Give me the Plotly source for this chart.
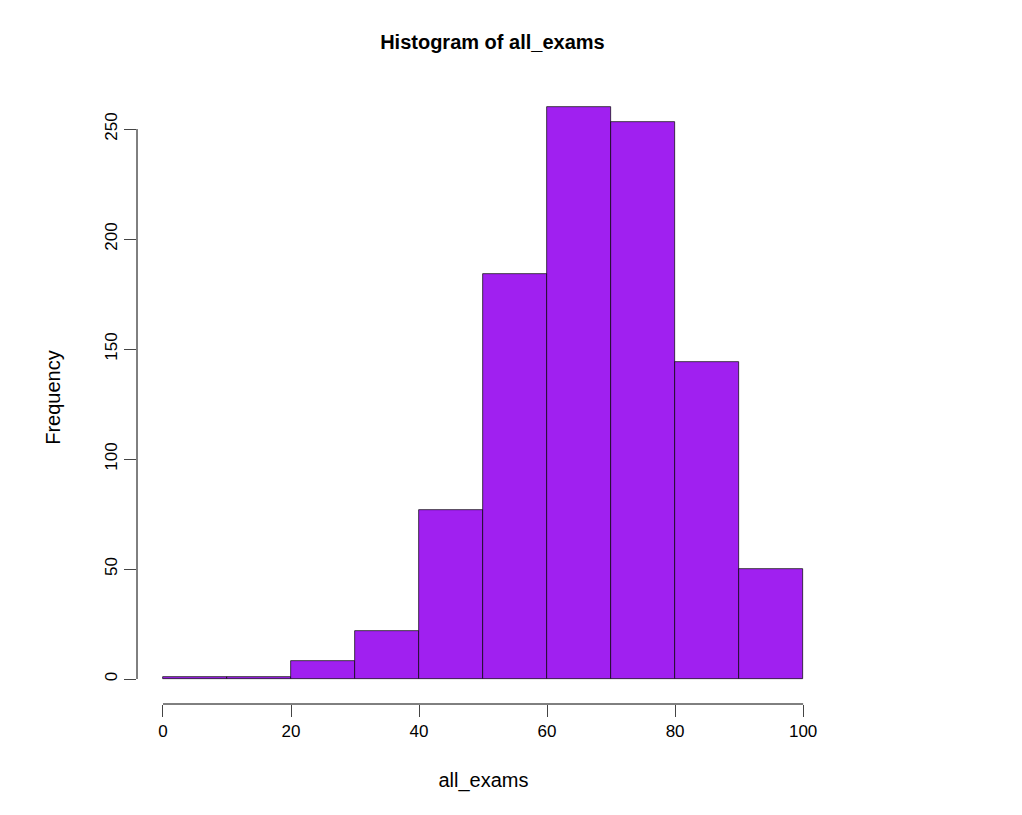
import plotly.graph_objects as go

bin_left = [0, 10, 20, 30, 40, 50, 60, 70, 80, 90]
counts = [1, 1, 8, 22, 77, 184, 260, 253, 144, 50]
x_ticks = [0, 20, 40, 60, 80, 100]
y_ticks = [0, 50, 100, 150, 200, 250]

fig = go.Figure(go.Bar(
    x=[b + 5 for b in bin_left], y=counts, width=10,
    marker=dict(color="#A020F0", line=dict(color="black", width=0.7)),
))

# R-style detached axis lines
fig.add_shape(type="line", xref="x", yref="paper", x0=0, x1=100, y0=0, y1=0,
              line=dict(color="black", width=1))
fig.add_shape(type="line", xref="paper", yref="y", x0=0, x1=0, y0=0, y1=250,
              line=dict(color="black", width=1))

fig.update_layout(
    width=1022, height=815, plot_bgcolor="white", paper_bgcolor="white",
    margin=dict(l=129, r=200, t=83, b=119),
    font=dict(family="Liberation Sans, Arial", size=17, color="black"),
    title=dict(text="<b>Histogram of all_exams</b>", x=0.474, xanchor="center",
               y=0.958, yanchor="middle", font=dict(size=20)),
    showlegend=False, bargap=0,
    xaxis=dict(range=[-4.06, 104.2], tickvals=x_ticks, ticks="outside", ticklen=12,
               showgrid=False, zeroline=False, showline=False,
               title=dict(text="all_exams", standoff=32)),
    yaxis=dict(range=[-11.36, 267.3], tickvals=y_ticks, ticks="outside", ticklen=12,
               tickangle=-90, showgrid=False, zeroline=False, showline=False,
               title=dict(text="Frequency", standoff=36)),
)

fig.write_html("out.html")
